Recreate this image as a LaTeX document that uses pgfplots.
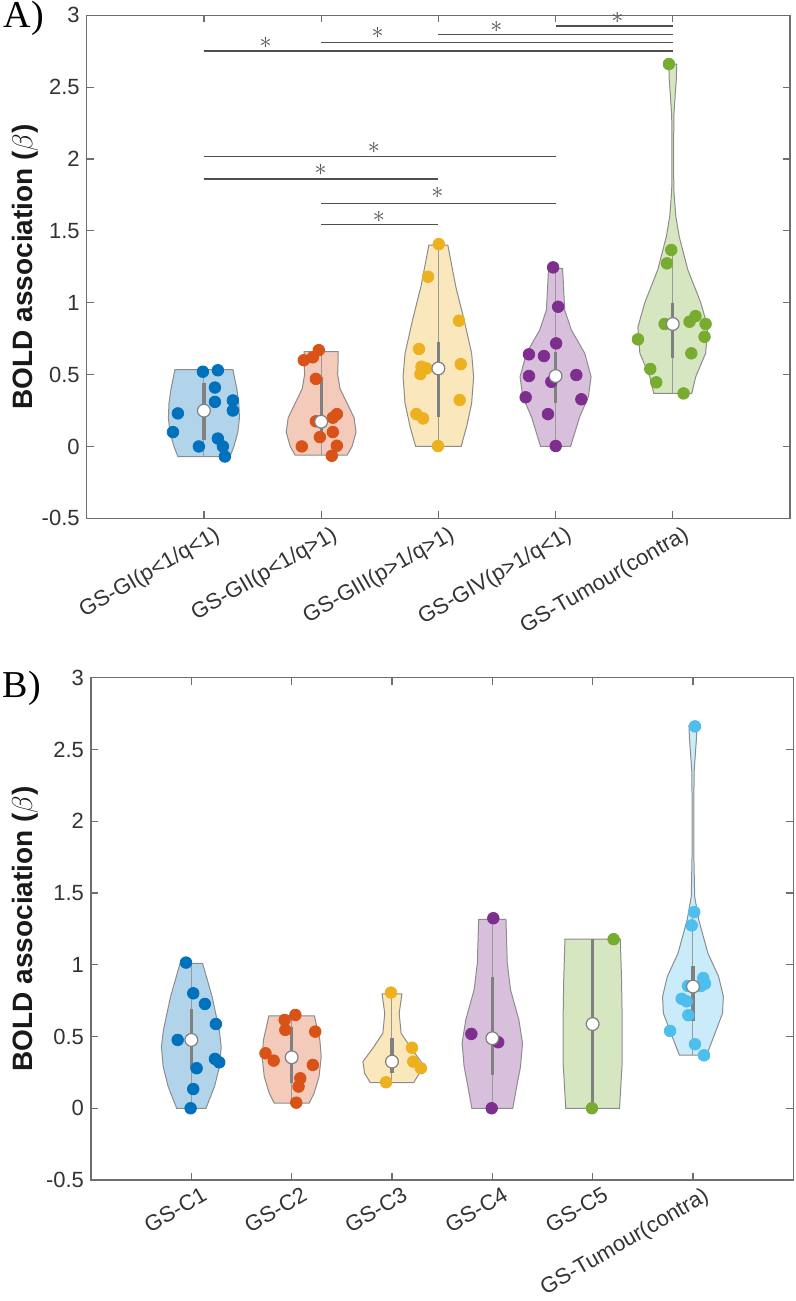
\documentclass[border=0pt]{standalone}
\usepackage{fontspec}
\setmainfont{Liberation Sans}
\newfontfamily\panelfont{Liberation Serif}
\usepackage{pgfplots}
\pgfplotsset{compat=1.18}

\definecolor{mblue}{rgb}{0,0.447,0.741}
\definecolor{morange}{rgb}{0.85,0.325,0.098}
\definecolor{myellow}{rgb}{0.929,0.694,0.125}
\definecolor{mpurple}{rgb}{0.494,0.184,0.556}
\definecolor{mgreen}{rgb}{0.466,0.674,0.188}
\definecolor{mcyan}{rgb}{0.301,0.745,0.933}
\definecolor{axgray}{RGB}{110,110,110}
\definecolor{boxgray}{RGB}{128,128,128}
\definecolor{siggray}{RGB}{80,80,80}

\pgfplotsset{
  violinax/.style={
    scale only axis, xmin=0, ymin=-0.5, ymax=3,
    ytick={-0.5,0,0.5,1,1.5,2,2.5,3},
    yticklabels={-0.5,0,0.5,1,1.5,2,2.5,3},
    tick align=inside, tick pos=both,
    major tick length=3.5pt,
    axis line style={axgray, line width=0.7pt},
    every tick/.style={axgray, line width=0.6pt},
    tick label style={font=\fontsize{11}{13}\selectfont, text=black!80},
    xticklabel style={xshift=5pt, yshift=-1.5pt, rotate=30, anchor=north east, inner sep=1pt},
    ylabel={BOLD association (\mdseries$\beta$\bfseries)},
    ylabel style={font=\fontsize{14}{16}\selectfont\bfseries, anchor=center, text=black!90},
    clip=false,
  },
  violin/.style={draw=black!45, line width=0.5pt, fill=#1, fill opacity=0.3},
  dots/.style={only marks, mark=*, mark size=2.9pt, color=#1},
  whisk/.style={black!40, line width=0.5pt},
  iqr/.style={boxgray, line width=1.6pt},
  med/.style={only marks, mark=*, mark size=3.2pt, mark options={fill=white, draw=boxgray, line width=0.6pt}},
  sig/.style={siggray, line width=0.6pt},
}
\tikzset{star/.style={text=siggray, font=\fontsize{12.5}{12}\selectfont, inner sep=0pt}}

\begin{document}
\begin{tikzpicture}
\useasboundingbox (0,0) rectangle (398pt,-650.5pt);

\node[font=\panelfont\fontsize{19}{20}\selectfont] at (12pt,-9pt) {A)};
\node[font=\panelfont\fontsize{19}{20}\selectfont] at (11pt,-344pt) {B)};

% ---------------- panel A ----------------
\begin{axis}[violinax,
  at={(43.35pt,-259.15pt)}, anchor=south west,
  width=351.65pt, height=251.5pt,
  xmax=6, xtick={1,2,3,4,5},
  xticklabels={GS-GI(p<1/q<1),GS-GII(p<1/q>1),GS-GIII(p>1/q>1),GS-GIV(p>1/q<1),GS-Tumour(contra)},
  ylabel style={at={(axis description cs:-0.0877,0.5)}},
]
% violins
\addplot[violin=mblue] coordinates {(0.778,-0.07)(0.744,0)(0.710,0.1)(0.697,0.2)(0.702,0.3)(0.719,0.4)(0.744,0.5)(0.753,0.535)
  (1.247,0.535)(1.256,0.5)(1.281,0.4)(1.298,0.3)(1.303,0.2)(1.290,0.1)(1.256,0)(1.222,-0.07)} --cycle;
\addplot[violin=morange] coordinates {(1.778,-0.06)(1.736,0)(1.702,0.1)(1.719,0.2)(1.778,0.3)(1.838,0.4)(1.859,0.5)(1.855,0.6)(1.855,0.66)
  (2.145,0.66)(2.145,0.6)(2.141,0.5)(2.162,0.4)(2.222,0.3)(2.281,0.2)(2.298,0.1)(2.264,0)(2.222,-0.06)} --cycle;
\addplot[violin=myellow] coordinates {(2.806,0)(2.759,0.137)(2.716,0.30)(2.699,0.485)(2.716,0.648)(2.780,0.88)(2.851,1.111)(2.919,1.40)
  (3.081,1.40)(3.149,1.111)(3.220,0.88)(3.284,0.648)(3.301,0.485)(3.284,0.30)(3.241,0.137)(3.194,0)} --cycle;
\addplot[violin=mpurple] coordinates {(3.872,0)(3.794,0.207)(3.720,0.346)(3.697,0.485)(3.751,0.648)(3.865,0.81)(3.922,0.949)(3.940,1.239)
  (4.060,1.239)(4.078,0.949)(4.135,0.81)(4.249,0.648)(4.303,0.485)(4.280,0.346)(4.206,0.207)(4.128,0)} --cycle;
\addplot[violin=mgreen] coordinates {(4.838,0.37)(4.804,0.485)(4.719,0.65)(4.702,0.83)(4.761,1.0)(4.872,1.23)(4.945,1.46)(4.974,1.6)(4.991,1.78)(4.993,2.0)(4.991,2.3)(4.979,2.45)(4.970,2.55)(4.966,2.66)
  (5.034,2.66)(5.030,2.55)(5.021,2.45)(5.009,2.3)(5.007,2.0)(5.009,1.78)(5.026,1.6)(5.055,1.46)(5.128,1.23)(5.239,1.0)(5.298,0.83)(5.281,0.65)(5.196,0.485)(5.162,0.37)} --cycle;
% data points
\addplot[dots=mblue] coordinates {(0.991,0.52)(1.119,0.53)(1.094,0.41)(1.094,0.31)(1.247,0.32)(1.247,0.25)(0.778,0.23)(0.736,0.10)(0.957,0.00)(1.119,0.055)(1.162,0.00)(1.179,-0.07)};
\addplot[dots=morange] coordinates {(1.852,0.60)(1.929,0.62)(1.980,0.67)(1.955,0.47)(2.134,0.225)(2.100,0.20)(1.955,0.175)(2.100,0.10)(1.989,0.065)(1.835,0.0)(2.134,0.005)(2.091,-0.065)};
\addplot[dots=myellow] coordinates {(3.004,1.408)(2.912,1.181)(3.176,0.875)(2.835,0.678)(2.856,0.555)(2.899,0.543)(2.847,0.504)(3.191,0.573)(3.182,0.323)(2.813,0.225)(2.870,0.195)(2.997,0.003)};
\addplot[dots=mpurple] coordinates {(3.979,1.246)(4.022,0.972)(4.005,0.717)(3.773,0.641)(3.901,0.629)(3.773,0.49)(4.177,0.497)(3.964,0.45)(3.745,0.342)(4.220,0.328)(3.935,0.225)(4.001,0.003)};
\addplot[dots=mgreen] coordinates {(4.967,2.661)(4.987,1.367)(4.950,1.274)(4.930,0.852)(5.143,0.868)(5.194,0.907)(5.280,0.852)(5.271,0.763)(4.703,0.745)(5.158,0.648)(4.808,0.539)(4.859,0.446)(5.092,0.369)};
% whiskers, boxes, medians
\addplot[whisk] coordinates {(1,-0.07)(1,0.535)};
\addplot[whisk] coordinates {(2,-0.06)(2,0.66)};
\addplot[whisk] coordinates {(3,0)(3,1.40)};
\addplot[whisk] coordinates {(4,0)(4,1.239)};
\addplot[whisk] coordinates {(5,0.37)(5,1.37)};
\addplot[iqr] coordinates {(1,0.045)(1,0.44)};
\addplot[iqr] coordinates {(2,0.045)(2,0.485)};
\addplot[iqr] coordinates {(3,0.207)(3,0.729)};
\addplot[iqr] coordinates {(4,0.30)(4,0.659)};
\addplot[iqr] coordinates {(5,0.613)(5,0.996)};
\addplot[med] coordinates {(1,0.249)(2,0.172)(3,0.543)(4,0.49)(5,0.852)};
% significance bars
\addplot[sig] coordinates {(4,2.926)(5,2.926)};
\addplot[sig] coordinates {(3,2.865)(5,2.865)};
\addplot[sig] coordinates {(2,2.81)(5,2.81)};
\addplot[sig] coordinates {(1,2.752)(5,2.752)};
\addplot[sig] coordinates {(1,2.016)(4,2.016)};
\addplot[sig] coordinates {(1,1.861)(3,1.861)};
\addplot[sig] coordinates {(2,1.692)(4,1.692)};
\addplot[sig] coordinates {(2,1.546)(3,1.546)};
\node[star] at (axis cs:4.527,2.981) {$\ast$};
\node[star] at (axis cs:3.495,2.921) {$\ast$};
\node[star] at (axis cs:2.481,2.875) {$\ast$};
\node[star] at (axis cs:1.526,2.805) {$\ast$};
\node[star] at (axis cs:2.449,2.074) {$\ast$};
\node[star] at (axis cs:1.995,1.923) {$\ast$};
\node[star] at (axis cs:2.992,1.761) {$\ast$};
\node[star] at (axis cs:2.492,1.598) {$\ast$};
\end{axis}

% ---------------- panel B ----------------
\begin{axis}[violinax,
  at={(45.5pt,-590pt)}, anchor=south west,
  width=351.15pt, height=251.15pt,
  xmax=7, xtick={1,2,3,4,5,6},
  xticklabels={GS-C1,GS-C2,GS-C3,GS-C4,GS-C5,GS-Tumour(contra)},
  ylabel style={at={(axis description cs:-0.094,0.5)}},
]
\addplot[violin=mblue] coordinates {(0.854,0)(0.769,0.151)(0.719,0.29)(0.702,0.429)(0.722,0.546)(0.793,0.778)(0.888,1.01)
  (1.112,1.01)(1.207,0.778)(1.278,0.546)(1.298,0.429)(1.281,0.29)(1.231,0.151)(1.146,0)} --cycle;
\addplot[violin=morange] coordinates {(1.826,0.035)(1.776,0.105)(1.727,0.22)(1.705,0.36)(1.719,0.476)(1.773,0.643)
  (2.227,0.643)(2.281,0.476)(2.295,0.36)(2.273,0.22)(2.224,0.105)(2.174,0.035)} --cycle;
\addplot[violin=myellow] coordinates {(2.784,0.178)(2.727,0.244)(2.710,0.325)(2.809,0.418)(2.909,0.523)(2.928,0.662)(2.901,0.797)
  (3.099,0.797)(3.072,0.662)(3.091,0.523)(3.191,0.418)(3.290,0.325)(3.273,0.244)(3.216,0.178)} --cycle;
\addplot[violin=mpurple] coordinates {(3.796,0)(3.757,0.151)(3.719,0.29)(3.699,0.453)(3.735,0.615)(3.818,0.824)(3.851,1.01)(3.864,1.317)
  (4.136,1.317)(4.149,1.01)(4.182,0.824)(4.265,0.615)(4.301,0.453)(4.281,0.29)(4.243,0.151)(4.204,0)} --cycle;
\addplot[violin=mgreen] coordinates {(4.732,0)(4.707,0.3)(4.705,0.6)(4.712,0.9)(4.724,1.178)
  (5.276,1.178)(5.288,0.9)(5.295,0.6)(5.293,0.3)(5.268,0)} --cycle;
\addplot[violin=mcyan] coordinates {(5.864,0.371)(5.793,0.499)(5.705,0.662)(5.697,0.778)(5.744,0.917)(5.851,1.08)(5.942,1.312)(5.983,1.475)(5.992,1.8)(5.992,2.1)(5.988,2.35)(5.975,2.48)(5.965,2.58)(5.960,2.664)
  (6.040,2.664)(6.035,2.58)(6.025,2.48)(6.012,2.35)(6.008,2.1)(6.008,1.8)(6.017,1.475)(6.058,1.312)(6.149,1.08)(6.256,0.917)(6.303,0.778)(6.295,0.662)(6.207,0.499)(6.136,0.371)} --cycle;
\addplot[dots=mblue] coordinates {(0.947,1.015)(1.019,0.801)(1.135,0.727)(1.245,0.587)(0.864,0.476)(1.235,0.344)(1.278,0.32)(1.053,0.279)(1.019,0.134)(0.993,0.0)};
\addplot[dots=morange] coordinates {(2.037,0.65)(1.930,0.615)(1.937,0.546)(2.235,0.534)(1.739,0.383)(1.821,0.332)(2.211,0.302)(2.086,0.209)(2.069,0.151)(2.046,0.039)};
\addplot[dots=myellow] coordinates {(2.990,0.806)(3.199,0.422)(3.212,0.325)(3.288,0.279)(2.941,0.181)};
\addplot[dots=mpurple] coordinates {(4.010,1.324)(3.791,0.518)(4.059,0.46)(3.994,0.0)};
\addplot[dots=mgreen] coordinates {(5.209,1.178)(4.993,0.0)};
\addplot[dots=mcyan] coordinates {(6.020,2.661)(6.013,1.367)(5.987,1.274)(5.950,0.852)(6.103,0.907)(6.120,0.868)(6.080,0.852)(5.887,0.763)(5.937,0.745)(5.954,0.648)(5.772,0.539)(6.020,0.446)(6.110,0.369)};
\addplot[whisk] coordinates {(1,0)(1,1.01)};
\addplot[whisk] coordinates {(2,0.035)(2,0.643)};
\addplot[whisk] coordinates {(3,0.178)(3,0.797)};
\addplot[whisk] coordinates {(4,0)(4,1.317)};
\addplot[whisk] coordinates {(5,0)(5,1.178)};
\addplot[whisk] coordinates {(6,0.371)(6,1.37)};
\addplot[iqr] coordinates {(1,0.267)(1,0.69)};
\addplot[iqr] coordinates {(2,0.174)(2,0.569)};
\addplot[iqr] coordinates {(3,0.244)(3,0.488)};
\addplot[iqr] coordinates {(4,0.232)(4,0.917)};
\addplot[iqr] coordinates {(5,0)(5,1.178)};
\addplot[iqr] coordinates {(6,0.61)(6,0.992)};
\addplot[med] coordinates {(1,0.476)(2,0.355)(3,0.325)(4,0.488)(5,0.587)(6,0.848)};
\end{axis}
\end{tikzpicture}
\end{document}
